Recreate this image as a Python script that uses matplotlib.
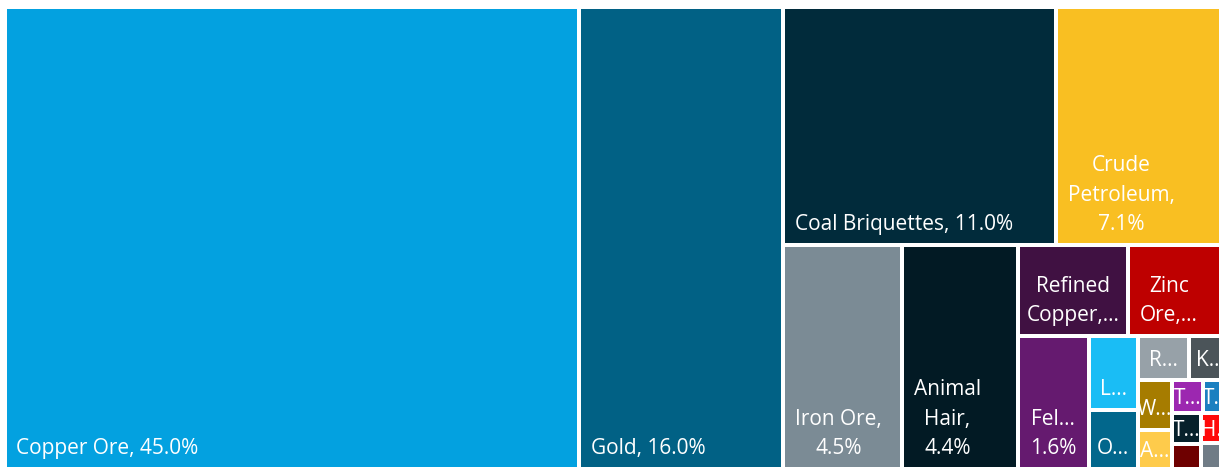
import matplotlib
matplotlib.use("Agg")
import matplotlib.pyplot as plt
from matplotlib.patches import Rectangle
from matplotlib.font_manager import FontProperties

# export shares (%), in the order the treemap places them
products = ["Copper Ore", "Gold", "Coal Briquettes", "Crude Petroleum", "Iron Ore",
            "Animal Hair", "Refined Copper", "Zinc Ore", "Feldspar", "Lead Ore",
            "Other Ores", "Raw Hides", "Knit Sweaters", "Wool", "Antimony Ore",
            "Tungsten Ore", "Textile Scraps", "Titanium Ore", "Dried Meat",
            "Horse Meat", "Gravel"]
shares = [45.0, 16.0, 11.0, 7.1, 4.5, 4.4, 1.7, 1.6, 1.6, 0.61, 0.49, 0.38, 0.32,
          0.29, 0.23, 0.17, 0.16, 0.15, 0.125, 0.155, 0.135]
colors = ["#03A1E0", "#016185", "#012B3B", "#F9BF22", "#7B8B95", "#021A24",
          "#401142", "#BE0000", "#651A6F", "#1ABDF5", "#02678C", "#97A1A8",
          "#4B5459", "#A67C00", "#FECB4B", "#9C27B0", "#1B80C0", "#07212B",
          "#6E0000", "#FF0A0A", "#707C86"]


def worst(row, side, ratio):
    s = sum(row)
    return max(side * side * max(row) * ratio / (s * s),
               s * s / (side * side * min(row) * ratio))


def squarify(values, x, y, w, h, ratio=0.8):
    scale = w * h / sum(values)
    areas = [v * scale for v in values]
    rects = []
    i = 0
    while i < len(areas):
        side = min(w, h)
        row = [areas[i]]
        best = worst(row, side, ratio)
        j = i + 1
        while j < len(areas):
            score = worst(row + [areas[j]], side, ratio)
            if score > best:
                break
            row.append(areas[j])
            best = score
            j += 1
        s = sum(row)
        if w >= h:
            t = s / h
            yy = y
            for a in row:
                rects.append((x, yy, t, a / t))
                yy += a / t
            x += t
            w -= t
        else:
            t = s / w
            xx = x
            for a in row:
                rects.append((xx, y, a / t, t))
                xx += a / t
            y += t
            h -= t
        i = j
    return rects


fig = plt.figure(figsize=(12.19, 4.68), dpi=100)
ax = fig.add_axes([0, 0, 1, 1])
ax.set_xlim(0, 1219)
ax.set_ylim(468, 0)
ax.axis("off")

font = FontProperties(family="Open Sans", size=15)
renderer = fig.canvas.get_renderer()


def tw(s):
    return renderer.get_text_width_height_descent(s, font, ismath=False)[0]


def shorten(s, width):
    for k in range(len(s), 0, -1):
        cand = s if k == len(s) else s[:k].rstrip() + "..."
        if tw(cand) <= width:
            return cand
    return s[0] + "..."


PAD, LH, LINE_H, DESC, GAP = 10, 29.5, 21, 3, 2

rects = squarify(shares, 4.5, 7, 1227, 462.4)
for (x, y, w, h), name, val, col in zip(rects, products, shares, colors):
    bx, by, bw, bh = x + GAP, y + GAP, w - 2 * GAP, h - 2 * GAP
    ax.add_patch(Rectangle((bx, by), bw, bh, facecolor=col, edgecolor="none"))
    if bh < 23 or bw < 14:
        continue
    aw = bw - 22
    words = (name + ", " + "%.1f%%" % val).split()
    lines, cur = [], ""
    for wd in words:
        test = wd if not cur else cur + " " + wd
        if tw(test) <= aw:
            cur = test
        else:
            if cur:
                lines.append(cur)
            cur = wd if tw(wd) <= bw - 12 else shorten(wd, aw)
    if cur:
        lines.append(cur)
    n_max = max(1, int((bh - 2 * PAD - LINE_H) // LH) + 1)
    if len(lines) > n_max:
        lines = lines[:n_max]
        if not lines[-1].endswith("..."):
            lines[-1] = shorten(lines[-1] + "...", bw - 4)
    block_w = max(tw(l) for l in lines)
    block_h = (len(lines) - 1) * LH + LINE_H
    pad_l = min(PAD, (bw - block_w) / 2)
    pad_b = min(PAD, (bh - block_h) / 2)
    cx = bx + pad_l + block_w / 2
    for i, l in enumerate(lines):
        yb = by + bh - pad_b - DESC - (len(lines) - 1 - i) * LH
        ax.text(cx, yb, l, ha="center", va="baseline", color="white",
                fontproperties=font)

fig.savefig("out.png", dpi=100, facecolor="white")
